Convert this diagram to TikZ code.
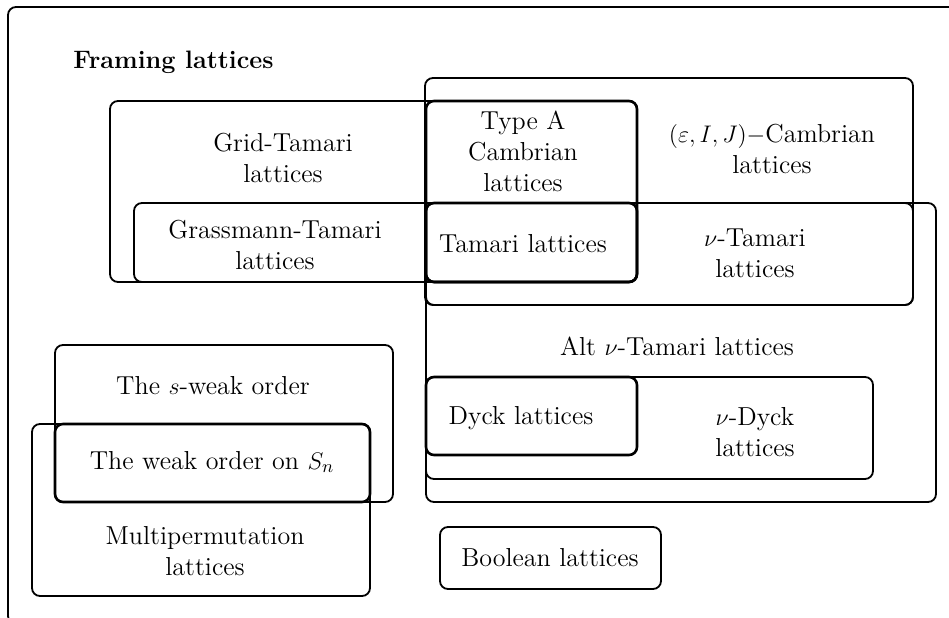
\documentclass[tikz,border=0pt]{standalone}
\begin{document}
\begin{tikzpicture}[x=0.5pt,y=-0.5pt,
  box/.style={draw=black,line width=0.9pt,rounded corners=4pt},
  tbox/.style={draw=black,line width=1.3pt,rounded corners=4pt},
  lbl/.style={align=center,font=\fontsize{13}{15.5}\selectfont,inner sep=0pt},
  ttl/.style={anchor=west,font=\fontsize{12.6}{15}\selectfont\bfseries,inner sep=0pt}]
\useasboundingbox (0,0) rectangle (949,617);
\begin{scope}
\clip (0,0) rectangle (949,617);
\draw[box] (8,7) rectangle (1000,624);
\end{scope}
\node[ttl] (title) at (73,62) {Framing lattices};
% boxes
\draw[box] (110,101) rectangle (637,282);
\draw[box] (425,78) rectangle (913,305);
\draw[box] (134,203) rectangle (637,282);
\draw[box] (426,203) rectangle (913,305);
\draw[box] (426,203) rectangle (936,502);
\draw[box] (426,377) rectangle (873,479);
\draw[tbox] (426,101) rectangle (637,282);
\draw[tbox] (426,203) rectangle (637,282);
\draw[tbox] (426,377) rectangle (637,455);
\draw[box] (440,527) rectangle (661,589);
\draw[box] (55,345) rectangle (393,502);
\draw[box] (32,424) rectangle (370,596);
\draw[tbox] (55,424) rectangle (370,502);
% labels
\node[lbl] (grid) at (283,158) {Grid-Tamari\\lattices};
\node[lbl] (grass) at (275,245) {Grassmann-Tamari\\lattices};
\node[lbl] (typea) at (523,151) {Type A\\Cambrian\\lattices};
\node[lbl] (camb) at (772,149) {$(\varepsilon,I,J)$$-$Cambrian\\lattices};
\node[lbl] (tam) at (523,244) {Tamari lattices};
\node[lbl] (nutam) at (755,253) {$\nu$-Tamari\\lattices};
\node[lbl] (alt) at (677,346) {Alt $\nu$-Tamari lattices};
\node[lbl] (dyck) at (521,418) {Dyck lattices};
\node[lbl] (nudyck) at (755,432) {$\nu$-Dyck\\lattices};
\node[lbl] (bool) at (550,558) {Boolean lattices};
\node[lbl] (sweak) at (213,386) {The $s$-weak order};
\node[lbl] (weak) at (212,462) {The weak order on $S_n$};
\node[lbl] (multi) at (205,551) {Multipermutation\\lattices};
\end{tikzpicture}
\end{document}
